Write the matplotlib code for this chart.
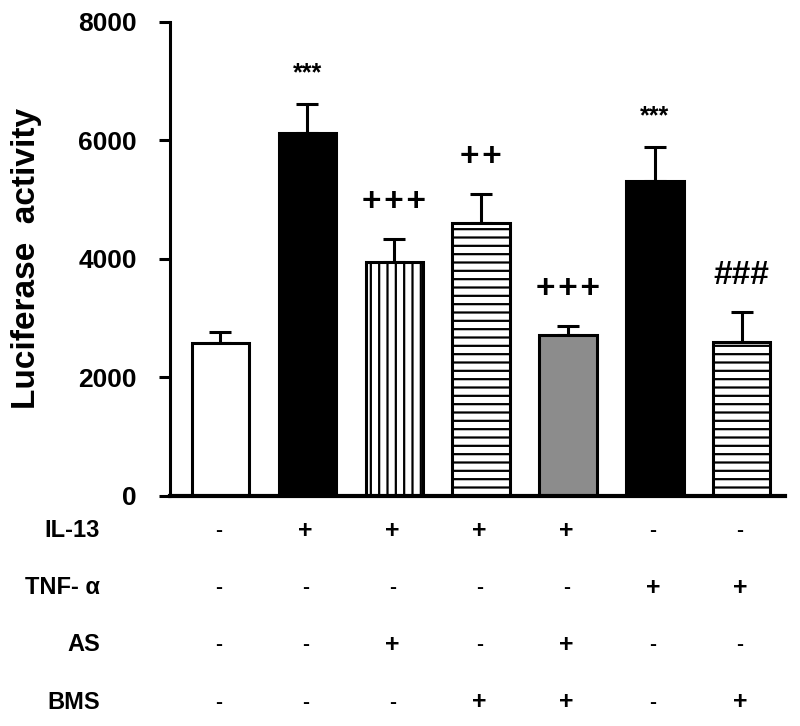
import matplotlib
matplotlib.use("Agg")
import matplotlib.pyplot as plt
from matplotlib.transforms import blended_transform_factory

plt.rcParams['font.family'] = ['Liberation Sans', 'DejaVu Sans']
plt.rcParams['hatch.linewidth'] = 1.6

# data
values = [2580, 6130, 3940, 4600, 2720, 5320, 2590]
errors = [180, 480, 390, 500, 150, 560, 520]
faces = ["white", "black", "white", "white", "#8c8c8c", "black", "white"]
hatches = ["", "", "||", "--", "", "", "--"]
marks = ["", "***", "+\u200a+\u200a+", "+\u200a+", "+\u200a+\u200a+", "***", "###"]

rowNames = ["IL-13", "TNF- \u03b1", "AS", "BMS"]
rowSigns = [
    ["-", "+", "+", "+", "+", "-", "-"],
    ["-", "-", "-", "-", "-", "+", "+"],
    ["-", "-", "+", "-", "+", "-", "-"],
    ["-", "-", "-", "+", "+", "-", "+"],
]

#====================================================================================================

def main():

    fig = plt.figure(figsize = (8, 7.26), dpi = 100)
    axis = fig.add_axes([0.2125, 0.317, 0.769, 0.653])

    xs = list(range(len(values)))
    for x, v, e, fc, h in zip(xs, values, errors, faces, hatches):
        axis.errorbar(x, v, yerr = [[0], [e]], fmt = "none", ecolor = "black",
                      elinewidth = 2.2, capsize = 8, capthick = 2.2, zorder = 1)
        axis.bar(x, v, width = 0.66, color = fc, edgecolor = "black",
                 linewidth = 2.2, hatch = h, zorder = 2)

    # significance marks
    for x, v, e, m in zip(xs, values, errors, marks):
        if not m:
            continue
        if m == "***":
            axis.text(x, v + e + 400, m, ha = "center", va = "baseline", fontsize = 18, fontweight = "bold")
        else:
            axis.text(x, v + e + 470, m, ha = "center", va = "baseline", fontsize = 24, fontweight = "bold",
                      family = ["Liberation Sans", "DejaVu Sans"])

    axis.set_xlim(-0.58, 6.5)
    axis.set_ylim(0, 8000)
    axis.set_yticks([0, 2000, 4000, 6000, 8000])
    axis.set_xticks([])
    for side in ["top", "right"]:
        axis.spines[side].set_visible(False)
    axis.spines["left"].set_linewidth(2.2)
    axis.spines["bottom"].set_linewidth(3)
    axis.tick_params(axis = "y", width = 2.2, length = 8, pad = 16, labelsize = 19)
    for lab in axis.get_yticklabels():
        lab.set_fontweight("bold")

    axis.set_ylabel("Luciferase  activity", fontsize = 24, fontweight = "bold", labelpad = 26)

    # treatment table under the bars
    trans = blended_transform_factory(axis.transData, axis.transAxes)
    rowY = [-0.074, -0.194, -0.314, -0.435]
    for name, signs, y in zip(rowNames, rowSigns, rowY):
        axis.text(-0.114, y, name, transform = axis.transAxes, ha = "right", va = "center",
                  fontsize = 17, fontweight = "bold")
        for x, s in zip(xs, signs):
            axis.text(x - 0.02, y, s, transform = trans, ha = "center", va = "center",
                      fontsize = 18 if s == "+" else 15, fontweight = "bold")

    fig.savefig("out.png", dpi = 100)

#====================================================================================================

if __name__ == "__main__":
    main()
